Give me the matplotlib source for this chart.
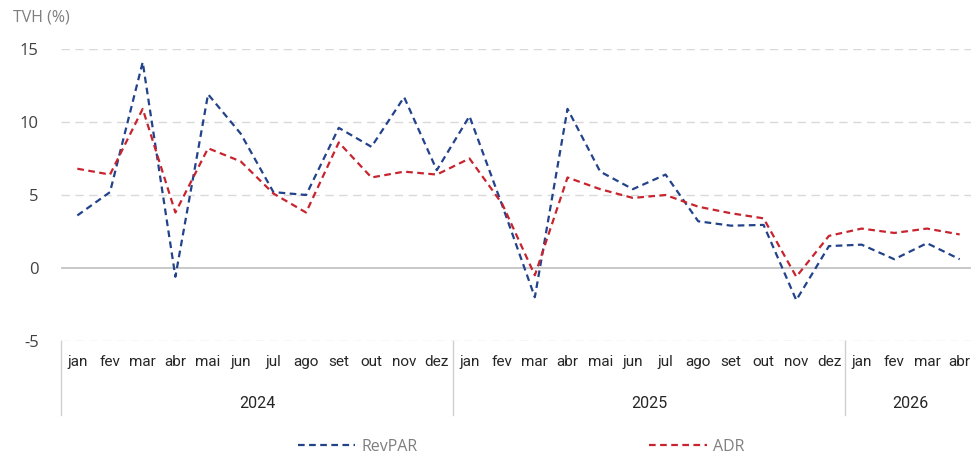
import numpy as np
import matplotlib
matplotlib.use('Agg')
import matplotlib.pyplot as plt
import matplotlib.transforms as mtransforms

plt.rcParams['axes.unicode_minus'] = False

months = ['jan', 'fev', 'mar', 'abr', 'mai', 'jun', 'jul', 'ago', 'set', 'out', 'nov', 'dez'] * 2 + ['jan', 'fev', 'mar', 'abr']
years = ['2024', '2025', '2026']
year_len = [12, 12, 4]

revpar = [3.6, 5.2, 14.1, -0.6, 11.9, 9.2, 5.2, 5.0, 9.6, 8.3, 11.7, 6.7,
          10.4, 4.3, -2.0, 10.9, 6.6, 5.4, 6.4, 3.2, 2.9, 2.95, -2.2, 1.5,
          1.6, 0.6, 1.7, 0.6]
adr = [6.8, 6.4, 10.9, 3.8, 8.2, 7.3, 5.1, 3.8, 8.6, 6.2, 6.6, 6.4,
       7.5, 4.4, -0.5, 6.2, 5.4, 4.8, 5.0, 4.2, 3.75, 3.4, -0.6, 2.2,
       2.7, 2.4, 2.7, 2.3]

blue = '#22428A'
red = '#C8242F'
txt = '#404040'
cat_font = ['Roboto', 'DejaVu Sans']

fig = plt.figure(figsize=(9.71, 4.55), dpi=100)
ax = fig.add_axes([61 / 971, 1 - 341 / 455, 915 / 971, (341 - 49) / 455])

x = np.arange(len(months))
ax.plot(x, revpar, color=blue, lw=1.6, dashes=(3, 2), label='RevPAR', zorder=3)
ax.plot(x, adr, color=red, lw=1.6, dashes=(3, 2), label='ADR', zorder=3)

ax.set_xlim(-0.5, len(months) - 0.5)
ax.set_ylim(-5, 15)
ax.set_yticks([-5, 0, 5, 10, 15])
for v in [-5, 5, 10, 15]:
    ax.axhline(v, color='#D9D9D9', lw=1, dashes=(6, 4), zorder=1)
ax.axhline(0, color='#C8C8C8', lw=1.4, zorder=2)

for s in ax.spines.values():
    s.set_visible(False)
ax.tick_params(axis='y', length=0, pad=16, labelsize=12, labelcolor=txt)
for lab in ax.get_yticklabels():
    lab.set_fontfamily('Open Sans')

ax.set_xticks(x)
ax.set_xticklabels(months, fontsize=11, color='#262626', fontfamily=cat_font)
ax.tick_params(axis='x', length=0, pad=10)

trans = mtransforms.blended_transform_factory(ax.transData, ax.transAxes)
ax_h = 341 - 49
sep_bottom = -(415 - 341) / ax_h
start = 0
bounds = [-0.5]
for yr, n in zip(years, year_len):
    mid = start + (n - 1) / 2
    ax.text(mid, -(404 - 341) / ax_h, yr, transform=trans, ha='center', va='center',
            fontsize=11.5, color='#262626', fontfamily=cat_font)
    start += n
    bounds.append(start - 0.5)
for b in bounds:
    ax.plot([b, b], [0, sep_bottom], transform=trans, color='#D0D0D0', lw=1, clip_on=False)

fig.text(13 / 971, 1 - 18 / 455, 'TVH (%)', fontsize=11.5, color='#7F7F7F',
         va='center', ha='left', fontfamily='Open Sans')

fig.legend(loc='center', bbox_to_anchor=(521 / 971, 1 - 447 / 455), ncol=2, frameon=False,
           handlelength=3.6, handletextpad=0.4, columnspacing=14.5,
           prop={'family': 'Open Sans', 'size': 11.5}, labelcolor='#7F7F7F')

fig.savefig('out.png', dpi=100)
